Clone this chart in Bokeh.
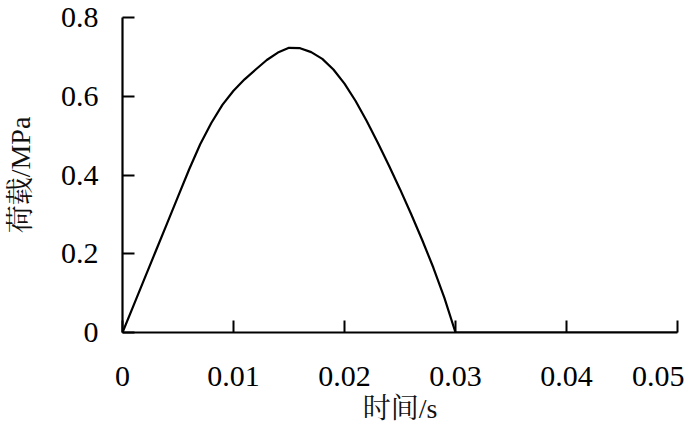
from bokeh.plotting import figure
from bokeh.models import Range1d, FixedTicker
from bokeh.embed import file_html
from bokeh.resources import INLINE

# time (s) and load (MPa)
t = [0, 0.001, 0.002, 0.003, 0.004, 0.005, 0.006, 0.007, 0.008, 0.009, 0.010,
     0.011, 0.012, 0.013, 0.014, 0.015, 0.016, 0.017, 0.018, 0.019, 0.020,
     0.021, 0.022, 0.023, 0.024, 0.025, 0.026, 0.027, 0.028, 0.029, 0.030, 0.05]
load = [0, 0.069, 0.138, 0.207, 0.276, 0.345, 0.414, 0.478, 0.532, 0.578, 0.614,
        0.643, 0.668, 0.692, 0.711, 0.723, 0.722, 0.712, 0.695, 0.668, 0.632,
        0.588, 0.537, 0.482, 0.424, 0.364, 0.301, 0.235, 0.165, 0.088, 0.0, 0.0]

x_ticks = [0, 0.01, 0.02, 0.03, 0.04, 0.05]
x_tick_labels = ["0", "0.01", "0.02", "0.03", "0.04", "0.05"]
y_ticks = [0, 0.2, 0.4, 0.6, 0.8]
y_tick_labels = ["0", "0.2", "0.4", "0.6", "0.8"]

FONT = "'Liberation Serif', 'Noto Serif CJK SC', 'Noto Sans CJK SC'"

p = figure(width=684, height=427, output_backend="svg", toolbar_location=None,
           x_range=Range1d(0, 0.05), y_range=Range1d(0, 0.8),
           min_border_left=122, min_border_right=7, min_border_top=17,
           min_border_bottom=95)
p.outline_line_color = None
p.grid.visible = False
p.background_fill_color = "white"
p.border_fill_color = "white"

p.line(t, load, line_color="black", line_width=2.2)

for ax, ticks, labels in ((p.xaxis[0], x_ticks, x_tick_labels),
                          (p.yaxis[0], y_ticks, y_tick_labels)):
    ax.ticker = FixedTicker(ticks=ticks)
    ax.major_label_overrides = {k: v for k, v in zip(ticks, labels)}
    ax.minor_tick_line_color = None
    ax.major_tick_in = 12
    ax.major_tick_out = 0
    ax.axis_line_width = 2.2
    ax.major_tick_line_width = 2
    ax.axis_line_color = "black"
    ax.major_tick_line_color = "black"
    ax.major_label_text_font = FONT
    ax.major_label_text_font_size = "30px"
    ax.major_label_text_color = "black"
    ax.axis_label_text_font = FONT
    ax.axis_label_text_font_size = "28px"
    ax.axis_label_text_font_style = "normal"
    ax.axis_label_text_color = "#111111"

p.xaxis.axis_label = "时间/s"
p.yaxis.axis_label = "荷载/MPa"
p.xaxis.major_label_standoff = 34
p.yaxis.major_label_standoff = 24
p.xaxis.axis_label_standoff = 4
p.yaxis.axis_label_standoff = 22

open("out.html", "w").write(file_html(p, INLINE))
